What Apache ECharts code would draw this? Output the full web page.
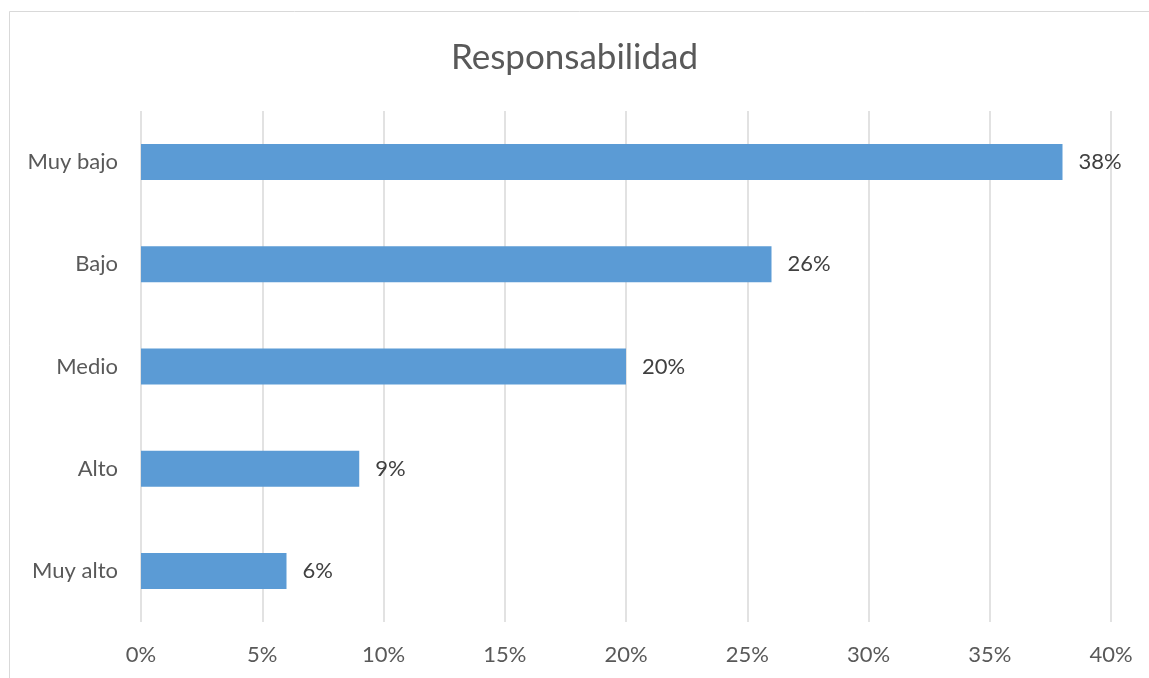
<!DOCTYPE html>
<html><head><meta charset="utf-8">
<script src="https://cdn.jsdelivr.net/npm/echarts@6/dist/echarts.min.js"></script>
<style>html,body{margin:0;padding:0;background:#fff}#c{width:1149px;height:678px}</style>
</head><body><div id="c"></div>
<script>
var categories = ['Muy bajo', 'Bajo', 'Medio', 'Alto', 'Muy alto'];
var values = [38, 26, 20, 9, 6];
var titleText = 'Responsabilidad';
var FONT = 'Lato';
var chart = echarts.init(document.getElementById('c'));
chart.setOption({
  animation: false,
  backgroundColor: '#fff',
  graphic: [{type:'rect', shape:{x:9.5,y:11.5,width:1200,height:800}, style:{fill:'none', stroke:'#d9d9d9', lineWidth:1}, silent:true}],
  title: {text: titleText, left: 'center', top: 35, textStyle:{fontFamily: FONT, fontSize: 35, fontWeight:'normal', color:'#595959'}},
  grid: {left: 141, right: 38, top: 111, bottom: 56, containLabel: false},
  xAxis: {type:'value', min:0, max:40, interval:5,
    axisLine:{show:false}, axisTick:{show:false},
    splitLine:{show:true, lineStyle:{color:'#d9d9d9', width:1.5}},
    axisLabel:{formatter:'{value}%', margin:22, fontFamily:FONT, fontSize:22, color:'#595959'}},
  yAxis: {type:'category', data: categories, inverse:true,
    axisLine:{show:false}, axisTick:{show:false},
    axisLabel:{margin:23, fontFamily:FONT, fontSize:22, color:'#595959'}},
  series: [{type:'bar', data: values, barWidth:36, itemStyle:{color:'#5b9bd5'},
    label:{show:true, position:'right', distance:16, formatter:'{c}%', fontFamily:FONT, fontSize:22, color:'#404040'}}]
});
</script></body></html>
